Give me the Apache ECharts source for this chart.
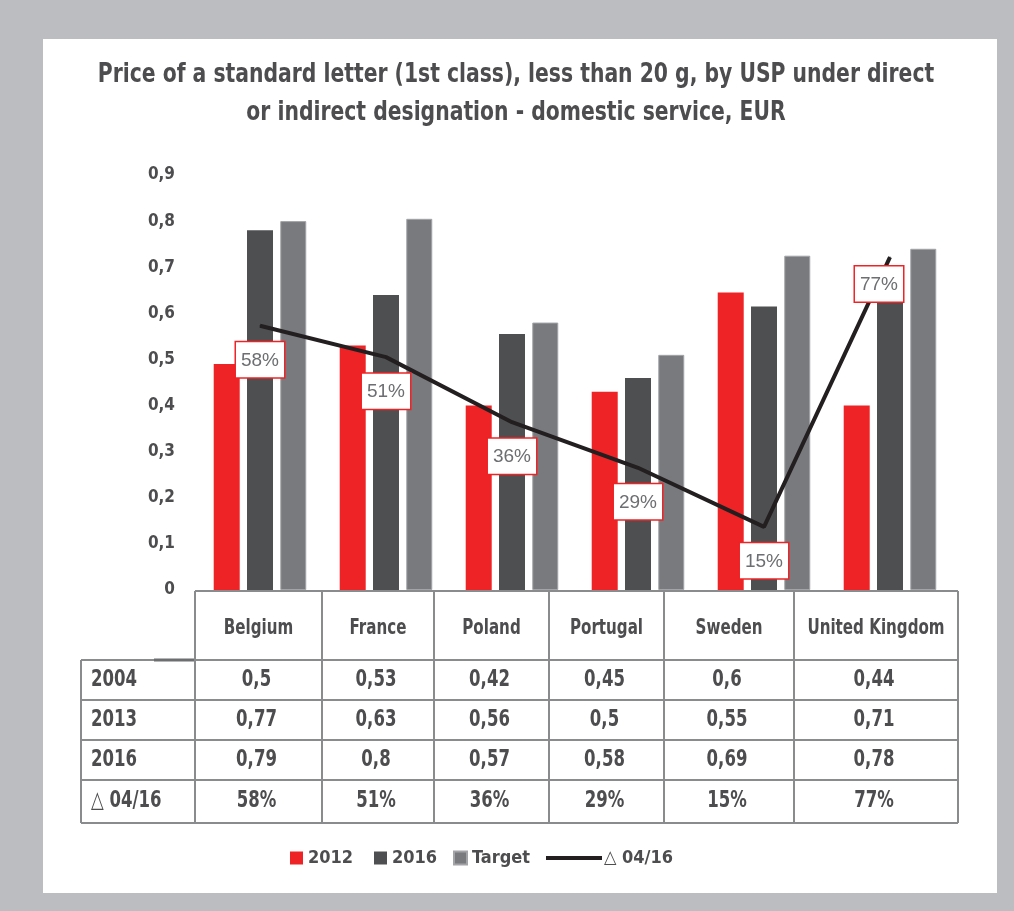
<!DOCTYPE html>
<html>
<head>
<meta charset="utf-8">
<style>
  html, body { margin: 0; padding: 0; background: #bcbdc0; }
  #chart { width: 1014px; height: 911px; }
</style>
<script src="https://cdn.jsdelivr.net/npm/echarts@6/dist/echarts.min.js"></script>
</head>
<body>
<div id="chart"></div>
<script>
'use strict';
// data
var categories = ['Belgium', 'France', 'Poland', 'Portugal', 'Sweden', 'United Kingdom'];
var bars2012 = [0.49, 0.53, 0.40, 0.43, 0.645, 0.40];
var bars2016 = [0.78, 0.64, 0.555, 0.46, 0.615, 0.69];
var barsTarget = [0.80, 0.805, 0.58, 0.51, 0.725, 0.74];
var changeLine = [0.573, 0.505, 0.364, 0.265, 0.137, 0.722];
var changeLabels = ['58%', '51%', '36%', '29%', '15%', '77%'];

// table under the chart
var rowNames = ['2004', '2013', '2016', '\u25b3 04/16'];
var row2004 = ['0,5', '0,53', '0,42', '0,45', '0,6', '0,44'];
var row2013 = ['0,77', '0,63', '0,56', '0,5', '0,55', '0,71'];
var row2016 = ['0,79', '0,8', '0,57', '0,58', '0,69', '0,78'];
var rowChange = ['58%', '51%', '36%', '29%', '15%', '77%'];
var tableRows = [row2004, row2013, row2016, rowChange];

var FONT = '"DejaVu Sans Condensed", "Liberation Sans Narrow", sans-serif';
var TXT = '#4d4d4f';
var LINE = '#8a8b8d';
var NARROW = 0.8; // squeeze text to look like a condensed face

// table layout
var colX = [195, 322, 434, 549, 664, 794, 958];
var rowY = [591, 660, 700, 740, 780, 823];
var tableLeft = 81;

var graphic = [];
// white panel
graphic.push({ type: 'rect', z: -10, shape: { x: 43, y: 39, width: 954, height: 854 }, style: { fill: '#fff' } });
// title
graphic.push({ type: 'text', x: 516, y: 75, scaleX: 0.87, style: { text: 'Price of a standard letter (1st class), less than 20 g, by USP under direct', font: 'bold 26px ' + FONT, fill: TXT, textAlign: 'center', textVerticalAlign: 'middle' } });
graphic.push({ type: 'text', x: 516, y: 113, scaleX: 0.87, style: { text: 'or indirect designation - domestic service, EUR', font: 'bold 26px ' + FONT, fill: TXT, textAlign: 'center', textVerticalAlign: 'middle' } });

function hline(x1, x2, y, color, w) {
    graphic.push({ type: 'line', shape: { x1: x1, y1: y, x2: x2, y2: y }, style: { stroke: color || LINE, lineWidth: w || 2 } });
}
function vline(x, y1, y2) {
    graphic.push({ type: 'line', shape: { x1: x, y1: y1, x2: x, y2: y2 }, style: { stroke: LINE, lineWidth: 2 } });
}
hline(colX[0], colX[colX.length - 1], rowY[0]);
for (var r = 1; r < rowY.length; r++) hline(tableLeft, colX[colX.length - 1], rowY[r]);
hline(154, colX[0], rowY[1], '#6d6e70', 3);
vline(tableLeft, rowY[1], rowY[rowY.length - 1]);
colX.forEach(function (x) { vline(x, rowY[0], rowY[rowY.length - 1]); });

// header cells
categories.forEach(function (c, i) {
    graphic.push({ type: 'text', x: (colX[i] + colX[i + 1]) / 2, y: (rowY[0] + rowY[1]) / 2 + 3, scaleX: NARROW,
        style: { text: c, font: 'bold 21px ' + FONT, fill: TXT, textAlign: 'center', textVerticalAlign: 'middle' } });
});
// body rows
tableRows.forEach(function (row, r) {
    var cy = (rowY[r + 1] + rowY[r + 2]) / 2;
    graphic.push({ type: 'text', x: 91, y: cy, scaleX: NARROW, style: { text: rowNames[r], font: 'bold 23px ' + FONT, fill: TXT, textAlign: 'left', textVerticalAlign: 'middle' } });
    row.forEach(function (v, i) {
        graphic.push({ type: 'text', x: (colX[i] + colX[i + 1]) / 2 - 2, y: cy, scaleX: NARROW,
            style: { text: v, font: 'bold 23px ' + FONT, fill: TXT, textAlign: 'center', textVerticalAlign: 'middle' } });
    });
});

var lineData = changeLine.map(function (v, i) {
    if (i === changeLine.length - 1) {
        return { value: v, label: { distance: 9, offset: [-11, 0] } };
    }
    return v;
});

var legendText = { fontFamily: FONT, fontWeight: 'bold', fontSize: 18, color: TXT };
function barLegend(name, left) {
    return { left: left, top: 849, padding: 0, selectedMode: false, icon: 'rect', itemWidth: 13, itemHeight: 13, data: [name], textStyle: legendText };
}

var chart = echarts.init(document.getElementById('chart'));
var option = {
    animation: false,
    backgroundColor: '#bcbdc0',
    grid: { left: 197, right: 61, top: 175, bottom: 321 },
    legend: [
        barLegend('2012', 290),
        barLegend('2016', 374),
        barLegend('Target', 453),
        {
            left: 546, top: 849, padding: 0,
            selectedMode: false,
            itemWidth: 56, itemHeight: 4,
            data: [{ name: '\u25b3 04/16', icon: 'rect', itemStyle: { color: '#231f20' } }],
            textStyle: Object.assign({}, legendText, { padding: [0, 0, 0, -3] })
        }
    ],
    xAxis: {
        type: 'category',
        data: categories,
        axisLine: { show: false },
        axisTick: { show: false },
        axisLabel: { show: false }
    },
    yAxis: {
        type: 'value',
        min: 0, max: 0.9, interval: 0.1,
        splitLine: { show: false },
        axisLine: { show: false },
        axisTick: { show: false },
        axisLabel: {
            margin: 22,
            fontFamily: FONT, fontWeight: 'bold', fontSize: 17, color: TXT,
            formatter: function (v) { return v === 0 ? '0' : v.toFixed(1).replace('.', ','); }
        }
    },
    series: [
        { name: '2012', type: 'bar', data: bars2012, barWidth: 26, barGap: '28%', itemStyle: { color: '#ee2326' } },
        { name: '2016', type: 'bar', data: bars2016, barWidth: 26, barGap: '28%', itemStyle: { color: '#4e4f51' } },
        { name: 'Target', type: 'bar', data: barsTarget, barWidth: 26, barGap: '28%', itemStyle: { color: '#797a7e', borderColor: '#a3a4a7', borderWidth: 1 } },
        {
            name: '\u25b3 04/16', type: 'line', data: lineData,
            symbol: 'circle', symbolSize: 1,
            itemStyle: { color: '#231f20' },
            lineStyle: { color: '#231f20', width: 4 },
            z: 5,
            label: {
                show: true, position: 'bottom', distance: 16,
                formatter: function (p) { return changeLabels[p.dataIndex]; },
                fontFamily: 'Liberation Sans, sans-serif', fontSize: 19, color: '#6d6e71',
                backgroundColor: '#fff', borderColor: '#ee2326', borderWidth: 1.5,
                padding: [8, 5, 7, 5], lineHeight: 20
            }
        }
    ],
    graphic: graphic
};
chart.setOption(option);
</script>
</body>
</html>
